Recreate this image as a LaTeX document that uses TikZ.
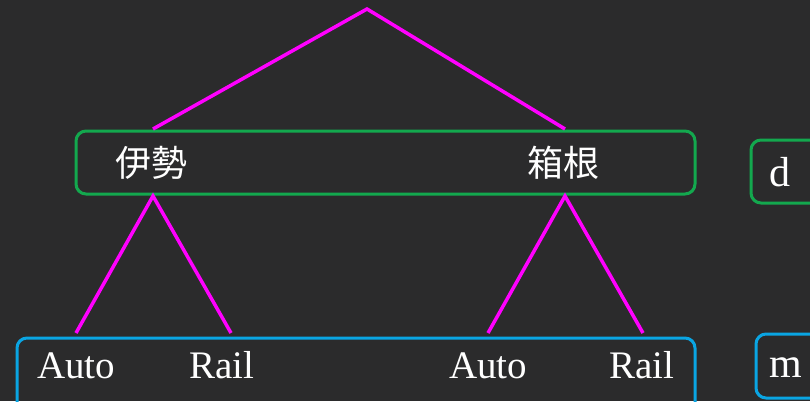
\documentclass[tikz,border=0pt]{standalone}
\usepackage{fontspec}
\setmainfont{Liberation Serif}
\newfontfamily\cjk{Noto Sans CJK JP}
\definecolor{bg}{HTML}{2B2B2C}
\definecolor{mag}{HTML}{FF00FF}
\definecolor{grn}{HTML}{13A84E}
\definecolor{blu}{HTML}{0AA5E3}
\begin{document}
\begin{tikzpicture}[x=1pt,y=-1pt,
  link/.style={mag,line width=3.5pt},
  gbox/.style={draw=grn,line width=3pt,rounded corners=10pt},
  bbox/.style={draw=blu,line width=3pt,rounded corners=10pt},
  jp/.style={text=white,font=\cjk\fontsize{36}{36}\selectfont,inner sep=0pt},
  lat/.style={text=white,font=\fontsize{39}{39}\selectfont,inner sep=0pt},
  big/.style={text=white,font=\fontsize{42}{42}\selectfont,inner sep=0pt}]
\fill[bg] (0,0) rectangle (810,401);
\useasboundingbox (0,0) rectangle (810,401);
% boxes
\draw[gbox] (76,131) rectangle (695,194);
\draw[bbox] (17,338) rectangle (695,420);
\draw[gbox] (751,140) rectangle (830,203);
\draw[bbox] (756,334) rectangle (830,398);
% nodes
\coordinate (root) at (367,9);
\coordinate (iseT) at (153,129);
\coordinate (hakT) at (565,129);
\coordinate (iseB) at (153,196);
\coordinate (hakB) at (565,196);
\coordinate (a1) at (76,333);
\coordinate (r1) at (231,333);
\coordinate (a2) at (488,333);
\coordinate (r2) at (643,333);
\node[jp] (ise) at (151,163) {伊勢};
\node[jp] (hak) at (563,163) {箱根};
\node[lat,anchor=base] (ta1) at (76,378) {Auto};
\node[lat,anchor=base] (tr1) at (222,378) {Rail};
\node[lat,anchor=base] (ta2) at (488,378) {Auto};
\node[lat,anchor=base] (tr2) at (642,378) {Rail};
\node[big,anchor=base] (td) at (780,186) {d};
\node[big,anchor=base] (tm) at (786,377) {m};
% connectors
\draw[link,line join=miter] (iseT) -- (root) -- (hakT);
\draw[link] (a1) -- (iseB) -- (r1);
\draw[link] (a2) -- (hakB) -- (r2);
\end{tikzpicture}
\end{document}
